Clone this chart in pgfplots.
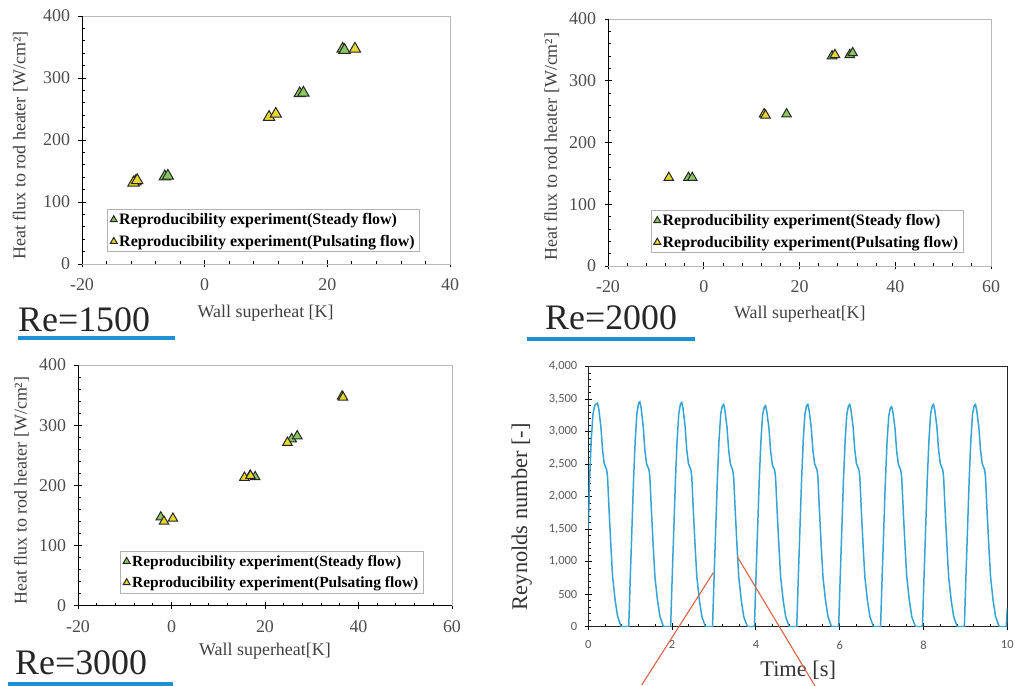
\documentclass[border=0pt]{standalone}
\usepackage{pgfplots}
\pgfplotsset{compat=1.18}
\usepackage{fontspec}
\setmainfont{Liberation Serif}
\newfontfamily\carlito{Carlito}

\definecolor{stdgreen}{RGB}{138,198,96}
\definecolor{pulsyellow}{RGB}{232,214,48}
\definecolor{reblue}{RGB}{30,144,214}
\definecolor{curveblue}{RGB}{52,164,212}
\definecolor{arrowred}{RGB}{222,96,70}

\pgfplotsset{
  heatflux/.style={
    scale only axis, anchor=south west,
    ymin=0, ymax=400, ytick={0,100,...,400},
    minor x tick num=4, minor y tick num=4,
    tick pos=left, tick align=center,
    major tick length=7bp, minor tick length=3bp,
    minor x tick style={yshift=1.5bp}, minor y tick style={xshift=1.5bp},
    axis line style={gray!55, line width=0.8bp},
    tick style={black, line width=0.8bp},
    ticklabel style={font=\fontsize{18}{20}\selectfont, text=black!70},
    xticklabel style={yshift=-8bp},
    yticklabel style={xshift=-5bp},
    /pgf/number format/assume math mode=true,
    label style={font=\fontsize{18}{20}\selectfont, text=black!75},
    ylabel={Heat flux to rod heater [W/cm²]},
    legend cell align=left,
    legend style={draw=gray!60, line width=0.6bp, anchor=south west,
      font=\bfseries\fontsize{16}{18}\selectfont,
      inner xsep=3bp, inner ysep=2bp, row sep=5bp,
      /tikz/every even column/.append style={column sep=3bp}},
  },
  steady/.style={only marks, mark=triangle*, mark size=#1,
    mark options={fill=stdgreen, draw=black!85, line width=1bp}},
  pulsating/.style={only marks, mark=triangle*, mark size=#1,
    mark options={fill=pulsyellow, draw=black!85, line width=1bp}},
  legend image code/.code={\draw[#1, mark size=4bp, line width=0.6bp] plot coordinates {(0bp,0bp)};},
}

\begin{document}
\begin{tikzpicture}
\useasboundingbox (0,0) rectangle (1015bp,686bp);

% Re=1500
\begin{axis}[heatflux, at={(82bp,422bp)}, width=368bp, height=248bp,
  xmin=-20, xmax=40, xtick={-20,0,...,40},
  xlabel={Wall superheat [K]},
  xlabel style={at={(axis description cs:0.499,-0.2)}, anchor=center},
  ylabel style={at={(axis description cs:-0.168,0.478)}, anchor=center},
  legend style={at={(0.068,0.048)}}]
\addplot[steady=6.5bp] coordinates {(-11.3,133) (-6.5,141) (-6.0,142) (15.5,275) (16.1,276) (22.5,347) (22.8,345)};
\addplot[pulsating=6.5bp] coordinates {(-11.6,131) (-11.0,135) (10.5,237) (11.6,242) (24.5,347)};
\legend{Reproducibility experiment(Steady flow), Reproducibility experiment(Pulsating flow)}
\draw[black, line width=0.8bp] (rel axis cs:0,1) -- (rel axis cs:0,0) -- (rel axis cs:1,0);
\end{axis}

% Re=2000
\begin{axis}[heatflux, at={(608bp,420bp)}, width=383bp, height=247bp,
  xmin=-20, xmax=60, xtick={-20,0,...,60},
  xlabel={Wall superheat[K]},
  xlabel style={at={(axis description cs:0.501,-0.196)}, anchor=center},
  ylabel style={at={(axis description cs:-0.147,0.483)}, anchor=center},
  legend style={at={(0.111,0.053)}}]
\addplot[steady=5.5bp] coordinates {(-3.2,143) (-2.4,143) (17.3,246) (26.8,340) (30.5,342) (31.1,345)};
\addplot[pulsating=5.5bp] coordinates {(-7.3,143) (12.6,246) (12.9,244) (27.4,342)};
\legend{Reproducibility experiment(Steady flow), Reproducibility experiment(Pulsating flow)}
\draw[black, line width=0.8bp] (rel axis cs:0,1) -- (rel axis cs:0,0) -- (rel axis cs:1,0);
\end{axis}

% Re=3000
\begin{axis}[heatflux, at={(78bp,80.3bp)}, width=374bp, height=240.7bp,
  xmin=-20, xmax=60, xtick={-20,0,...,60},
  xlabel={Wall superheat[K]},
  xlabel style={at={(axis description cs:0.5,-0.19)}, anchor=center},
  ylabel style={at={(axis description cs:-0.151,0.478)}, anchor=center},
  legend style={at={(0.112,0.052)}, font=\bfseries\fontsize{15.5}{18}\selectfont}]
\addplot[steady=5.5bp] coordinates {(-2.3,147) (16.8,216) (17.9,214) (25.7,277) (26.9,282) (36.5,348)};
\addplot[pulsating=5.5bp] coordinates {(-1.6,140) (0.3,145) (15.6,213) (16.9,216) (24.8,271) (36.7,346)};
\legend{Reproducibility experiment(Steady flow), Reproducibility experiment(Pulsating flow)}
\draw[black, line width=0.8bp] (rel axis cs:0,1) -- (rel axis cs:0,0) -- (rel axis cs:1,0);
\end{axis}

% Reynolds number vs time
\begin{axis}[scale only axis, anchor=south west, at={(588.3bp,59.3bp)},
  width=419bp, height=260bp,
  xmin=0, xmax=10, ymin=0, ymax=4000,
  xtick={0,2,...,10}, ytick={0,500,...,4000},
  minor x tick num=4, minor y tick num=4,
  tick pos=left, tick align=center,
  major tick length=7bp, minor tick length=3bp,
  minor x tick style={yshift=1.5bp}, minor y tick style={xshift=1.5bp},
  axis line style={black!85, line width=1bp},
  tick style={black, line width=1bp},
  scaled y ticks=false,
  /pgf/number format/1000 sep={,},
  /pgf/number format/assume math mode=true,
  ticklabel style={font=\carlito\fontsize{12.5}{14}\selectfont, text=black!65},
  xticklabel style={yshift=-7bp},
  yticklabel style={xshift=-4bp},
  label style={font=\fontsize{22.5}{25}\selectfont, text=black!80},
  xlabel={Time [s]}, ylabel={Reynolds number [-]},
  xlabel style={at={(axis description cs:0.501,-0.167)}, anchor=center},
  ylabel style={at={(axis description cs:-0.159,0.423)}, anchor=center}]
\addplot[curveblue, line width=1.5bp] coordinates {
(0,1500) (0.03,2250) (0.07,2870) (0.11,3260) (0.15,3400) (0.19,3430) (0.22,3440) (0.25,3350) (0.30,3080) (0.34,2720) (0.38,2510) (0.44,2410) (0.46,2300) (0.50,1740) (0.54,1230) (0.58,770) (0.64,410) (0.70,155) (0.78,10) (0.82,0)
(0.965,0) (1.00,720) (1.04,1490) (1.08,2260) (1.12,2870) (1.16,3280) (1.20,3440) (1.23,3460) (1.26,3370) (1.31,3080) (1.35,2720) (1.39,2510) (1.45,2410) (1.47,2300) (1.51,1740) (1.55,1230) (1.59,770) (1.65,410) (1.71,155) (1.79,10) (1.83,0)
(1.965,0) (2.00,720) (2.04,1490) (2.08,2260) (2.12,2870) (2.16,3280) (2.20,3430) (2.23,3450) (2.26,3360) (2.31,3080) (2.35,2720) (2.39,2510) (2.45,2410) (2.47,2300) (2.51,1740) (2.55,1230) (2.59,770) (2.65,410) (2.71,155) (2.79,10) (2.83,0)
(2.965,0) (3.00,720) (3.04,1490) (3.08,2260) (3.12,2870) (3.16,3270) (3.20,3400) (3.23,3420) (3.26,3330) (3.31,3070) (3.35,2720) (3.39,2510) (3.45,2400) (3.47,2290) (3.51,1740) (3.55,1230) (3.59,770) (3.65,410) (3.71,155) (3.79,10) (3.83,0)
(3.965,0) (4.00,720) (4.04,1490) (4.08,2260) (4.12,2860) (4.16,3260) (4.20,3380) (4.23,3400) (4.26,3310) (4.31,3060) (4.35,2710) (4.39,2500) (4.45,2400) (4.47,2290) (4.51,1740) (4.55,1230) (4.59,770) (4.65,410) (4.71,155) (4.79,10) (4.83,0)
(4.975,0) (5.01,720) (5.05,1490) (5.09,2260) (5.13,2870) (5.17,3270) (5.21,3400) (5.24,3420) (5.27,3330) (5.32,3070) (5.36,2720) (5.40,2510) (5.46,2410) (5.48,2300) (5.52,1740) (5.56,1230) (5.60,770) (5.66,410) (5.72,155) (5.80,10) (5.84,0)
(5.975,0) (6.01,720) (6.05,1490) (6.09,2260) (6.13,2870) (6.17,3270) (6.21,3400) (6.24,3420) (6.27,3330) (6.32,3070) (6.36,2720) (6.40,2510) (6.46,2410) (6.48,2300) (6.52,1740) (6.56,1230) (6.60,770) (6.66,410) (6.72,155) (6.80,10) (6.84,0)
(6.975,0) (7.01,710) (7.05,1470) (7.09,2240) (7.13,2840) (7.17,3240) (7.21,3365) (7.24,3385) (7.27,3300) (7.32,3050) (7.36,2700) (7.40,2500) (7.46,2400) (7.48,2290) (7.52,1740) (7.56,1230) (7.60,770) (7.66,410) (7.72,155) (7.80,10) (7.84,0)
(7.975,0) (8.01,720) (8.05,1490) (8.09,2260) (8.13,2870) (8.17,3270) (8.21,3400) (8.24,3420) (8.27,3330) (8.32,3070) (8.36,2720) (8.40,2510) (8.46,2410) (8.48,2300) (8.52,1740) (8.56,1230) (8.60,770) (8.66,410) (8.72,155) (8.80,10) (8.84,0)
(8.975,0) (9.01,720) (9.05,1490) (9.09,2260) (9.13,2870) (9.17,3270) (9.21,3400) (9.24,3420) (9.27,3330) (9.32,3070) (9.36,2720) (9.40,2510) (9.46,2410) (9.48,2300) (9.52,1740) (9.56,1230) (9.60,770) (9.66,410) (9.72,155) (9.80,10) (9.84,0)
(9.975,0) (10,280)};
\end{axis}

% annotation lines
\draw[arrowred, line width=1.1bp] (641.7bp,1bp) -- (713.3bp,113.3bp);
\draw[arrowred, line width=1.1bp] (737.3bp,129.3bp) -- (815bp,0bp);

% panel titles
\node[anchor=base west, inner sep=0, font=\fontsize{36}{40}\selectfont, text=black!85] at (18bp,354bp) {Re=1500};
\draw[reblue, line width=4bp] (18bp,347.5bp) -- (175bp,347.5bp);
\node[anchor=base west, inner sep=0, font=\fontsize{36}{40}\selectfont, text=black!85] at (545bp,356bp) {Re=2000};
\draw[reblue, line width=4bp] (527bp,347bp) -- (695bp,347bp);
\node[anchor=base west, inner sep=0, font=\fontsize{36}{40}\selectfont, text=black!85] at (15bp,12bp) {Re=3000};
\draw[reblue, line width=4bp] (8bp,2bp) -- (173bp,2bp);
\end{tikzpicture}
\end{document}
